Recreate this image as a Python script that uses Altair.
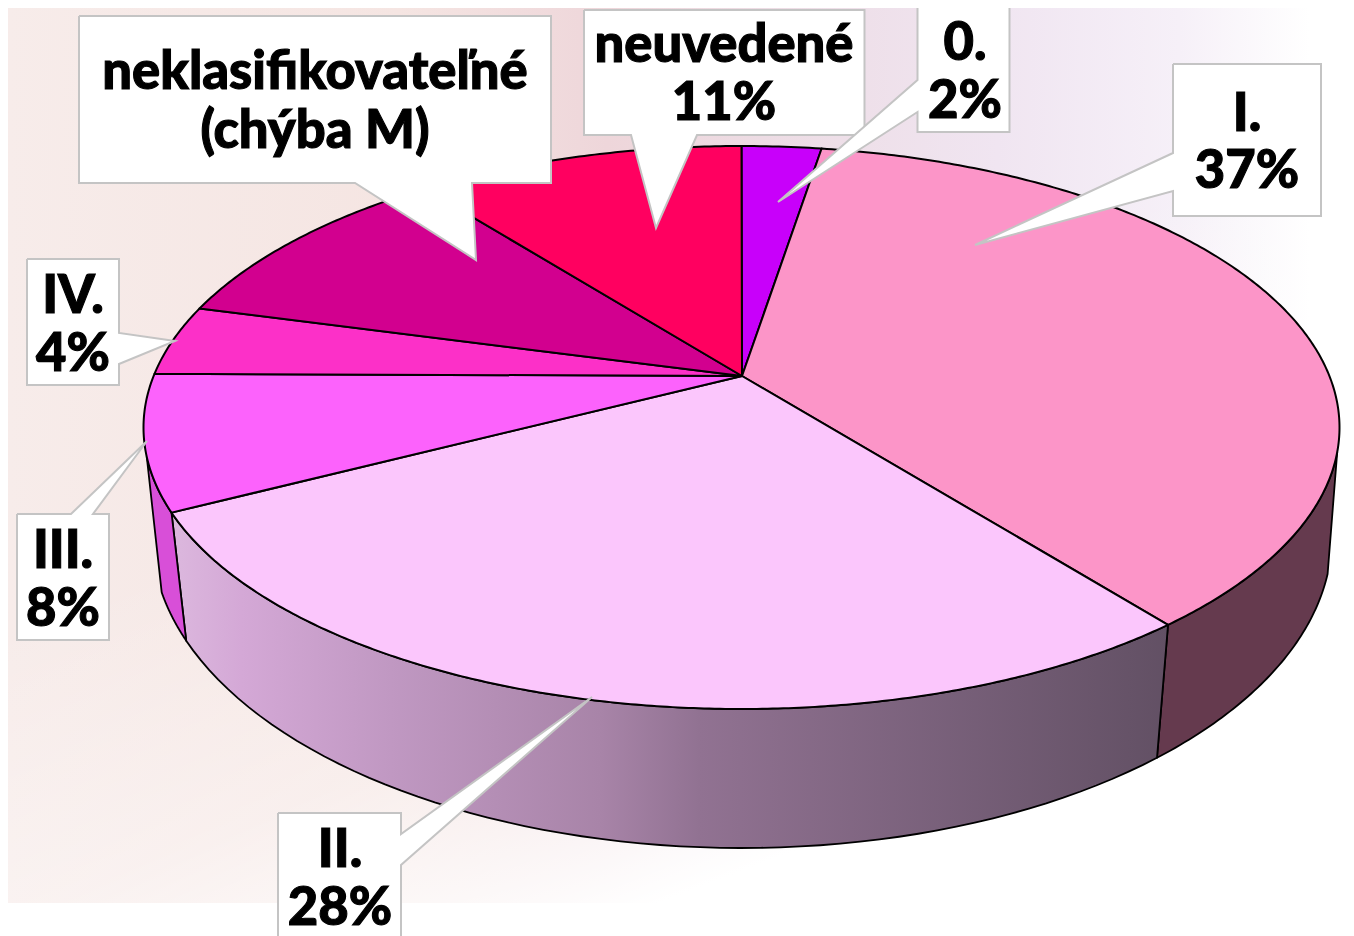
import numpy as np
import pandas as pd
import altair as alt

# --- values ---
slice_names = ["0.", "I.", "II.", "III.", "IV.", "neklasifikovateľné", "neuvedené"]
slice_sweeps = [7.7, 126.8, 117.9, 28.6, 14.0, 33.0, 32.0]  # drawn sweep on the tilted rim, degrees
slice_colors = ["#c800fa", "#fc95c8", "#fbc6fc", "#fc62fc", "#fc30c8", "#d2008f", "#ff0060"]

label_lines = [
    ["neklasifikovateľné", "(chýba M)"],
    ["neuvedené", "11%"],
    ["0.", "2%"],
    ["I.", "37%"],
    ["IV.", "4%"],
    ["III.", "8%"],
    ["II.", "28%"],
]
label_x = [315, 724, 965, 1247, 73, 63, 340]
label_y = [[89, 148], [62, 120], [60, 118], [131, 188], [313, 371], [568, 626], [867, 925]]

box_x0 = [79, 584, 917.5, 1173, 27, 17, 278]
box_x1 = [551, 864.5, 1009.5, 1321, 119, 109, 401]
box_y0 = [16, 10, 7, 64, 259, 514, 813]
box_y1 = [183, 135, 132, 216, 385, 640, 960]
tail_side = ["bottom", "bottom", "left", "left", "right", "top", "right"]
tail_a = [(355, 183), (631, 135), (917.5, 112), (1173, 191), (119, 333), (71, 514), (401, 834)]
tail_tip = [(476, 260), (656, 228), (778, 202), (975, 245), (175, 341), (147, 441), (592, 697)]
tail_b = [(472, 183), (697, 135), (917.5, 80), (1173, 153), (119, 364), (93, 514), (401, 865)]

FONT = "Lato"
FONT_SIZE = 52.5
FONT_WEIGHT = 900

# --- geometry helpers ---
APEX = (742, 376)
TOP = dict(cx=741.5, cy=427.5, rx=598, ry=281.5)
BOTTOM = dict(cx=742, cy=536, rx=590, ry=312)

X = alt.X("x:Q", axis=None, scale=alt.Scale(domain=[8, 1346], nice=False, zero=False))
Y = alt.Y("y:Q", axis=None, scale=alt.Scale(domain=[8, 936], reverse=True, nice=False, zero=False))


def rim(e, a0, a1, n=60):
    t = np.radians(np.linspace(a0, a1, n))
    return list(zip(e["cx"] + e["rx"] * np.sin(t), e["cy"] - e["ry"] * np.cos(t)))


def poly(points, **mark):
    pts = list(points) + [points[0]]
    df = pd.DataFrame(pts, columns=["x", "y"]).assign(i=range(len(pts)))
    return alt.Chart(df).mark_line(**mark).encode(x=X, y=Y, order="i:Q")


def grad(stops, **kw):
    return alt.LinearGradient(
        gradient="linear",
        stops=[alt.GradientStop(offset=o, color=c) for o, c in stops],
        **kw,
    )


layers = []

# background wash
bg = pd.DataFrame({"x": [8], "x2": [1310], "y": [8], "y2": [903]})
bg_chart = alt.Chart(bg)
layers.append(
    bg_chart.mark_rect(
        fill=grad(
            [(0, "#f7ecea"), (0.3, "#f5e5e2"), (0.46, "#eed6da"), (0.58, "#eddce4"),
             (0.76, "#f0e5f1"), (0.9, "#f6f0f8"), (1, "#ffffff")],
            x1=0, x2=1, y1=0, y2=0,
        )
    ).encode(x=X, x2="x2:Q", y=Y, y2="y2:Q")
)
layers.append(
    bg_chart.mark_rect(
        fill=grad(
            [(0, "rgba(255,255,255,0)"), (0.55, "rgba(255,255,255,0.35)"), (1, "rgba(255,255,255,1)")],
            x1=0.25, y1=0.55, x2=0.5, y2=1.0,
        )
    ).encode(x=X, x2="x2:Q", y=Y, y2="y2:Q")
)

# side walls
wall_grad = grad(
    [(0, "#dcb8de"), (0.07, "#d4a8d6"), (0.22, "#c098c2"), (0.43, "#a884a8"),
     (0.53, "#917292"), (1, "#625064")],
    x1=0, x2=1, y1=0, y2=0,
)
walls = [
    (95, 134.5, 97, 135.3, "#653a4e"),
    (134.5, 252.4, 135.3, 250.4, wall_grad),
    (252.4, 264, 250.4, 259.6, "#d84fd8"),
]
for t0, t1, b0, b1, fill in walls:
    pts = rim(TOP, t0, t1) + rim(BOTTOM, b1, b0)
    layers.append(poly(pts, fill=fill, stroke="#000000", strokeWidth=1.8, strokeJoin="round"))

# top face
edges = np.concatenate([[0], np.cumsum(slice_sweeps)])
for k, color in enumerate(slice_colors):
    pts = [APEX] + rim(TOP, edges[k], edges[k + 1], n=max(12, int(slice_sweeps[k]) * 2))
    layers.append(poly(pts, fill=color, stroke="#000000", strokeWidth=2, strokeJoin="round"))

# callouts
for k in range(len(label_lines)):
    x0, x1, y0, y1 = box_x0[k], box_x1[k], box_y0[k], box_y1[k]
    a, tip, b = tail_a[k], tail_tip[k], tail_b[k]
    side = tail_side[k]
    pts = [(x0, y0)]
    if side == "top":
        pts += [a, tip, b]
    pts += [(x1, y0)]
    if side == "right":
        pts += [a, tip, b]
    pts += [(x1, y1)]
    if side == "bottom":
        pts += [b, tip, a]
    pts += [(x0, y1)]
    if side == "left":
        pts += [a, tip, b]
    layers.append(poly(pts, fill="#ffffff", stroke="#c4c4c4", strokeWidth=2, strokeJoin="miter"))

# labels
rows = []
for k, lines in enumerate(label_lines):
    for line, yy in zip(lines, label_y[k]):
        rows.append({"x": label_x[k], "y": yy, "t": line})
layers.append(
    alt.Chart(pd.DataFrame(rows))
    .mark_text(font=FONT, fontSize=FONT_SIZE, fontWeight=FONT_WEIGHT, color="#000000",
               stroke="#000000", strokeWidth=1.1, align="center", baseline="alphabetic")
    .encode(x=X, y=Y, text="t:N")
)

chart = (
    alt.layer(*layers)
    .properties(width=1338, height=928, padding=0, background="#ffffff",
                autosize=alt.AutoSizeParams(type="none", contains="padding"))
    .configure_view(stroke=None)
)
chart.save("out.html", embed_options={"renderer": "svg", "actions": False})
